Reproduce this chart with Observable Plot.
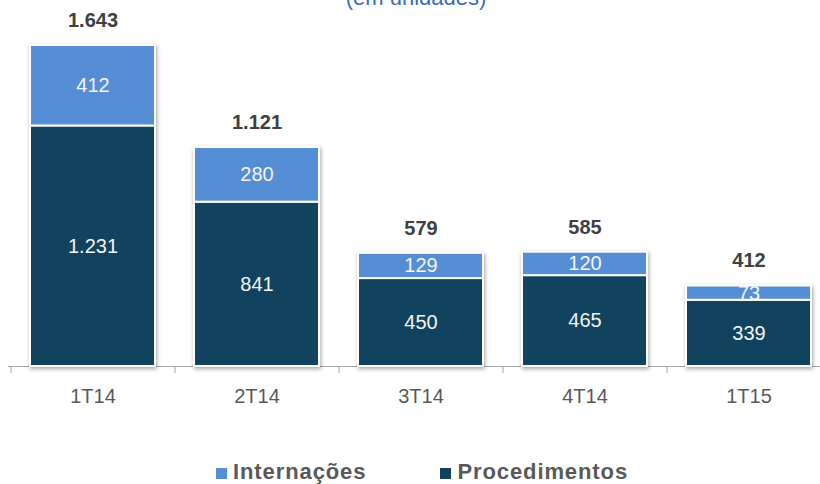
<!DOCTYPE html>
<html><head><meta charset="utf-8">
<script src="https://cdn.jsdelivr.net/npm/d3@7"></script>
<script src="https://cdn.jsdelivr.net/npm/@observablehq/plot@0.6"></script>
<style>
html,body{margin:0;padding:0;background:#fff;overflow:hidden;}
#wrap{position:relative;width:820px;height:484px;font-family:Arial,"Liberation Sans",sans-serif;overflow:hidden;}
#title{position:absolute;left:0;width:832px;top:-13px;text-align:center;font-size:22px;line-height:22px;color:#3A6DB3;}
#chart{position:absolute;left:0;top:0;}
#legend{position:absolute;top:460px;left:216px;display:flex;align-items:center;font-size:22px;font-weight:bold;color:#595959;letter-spacing:0.9px;line-height:24px;}
.item{display:flex;align-items:center;margin-right:74px;}
.sw{width:11px;height:11px;margin-right:6px;margin-top:3px;}
g[aria-label="bar"]{filter:drop-shadow(1px 2px 2px rgba(0,0,0,0.35));}
</style></head>
<body>
<div id="wrap">
  <div id="chart"></div>
  <div id="title">(em unidades)</div>
  <div id="legend"></div>
</div>
<script>
const categories = ["1T14", "2T14", "3T14", "4T14", "1T15"];
const series = ["Internações", "Procedimentos"];
const colors = ["#558ED5", "#11435E"];
const internacoes = [412, 280, 129, 120, 73];
const procedimentos = [1231, 841, 450, 465, 339];

const fmt = d3.formatLocale({decimal: ",", thousands: ".", grouping: [3], currency: ["R$", ""]}).format(",d");

const rows = categories.flatMap((c, i) => [
  {q: c, serie: series[1], v: procedimentos[i]},
  {q: c, serie: series[0], v: internacoes[i]}
]);
const totals = categories.map((c, i) => ({q: c, t: internacoes[i] + procedimentos[i]}));
const order = [series[1], series[0]];

const chart = Plot.plot({
  width: 820, height: 450,
  marginLeft: 8, marginRight: 0, marginTop: 45, marginBottom: 84,
  x: {domain: categories, range: [9.5, 830.7], paddingInner: 0.24, paddingOuter: 0.12, label: null},
  y: {domain: [0, d3.max(totals, d => d.t)], axis: null},
  color: {domain: series, range: colors},
  style: {fontFamily: "Arial, 'Liberation Sans', sans-serif", overflow: "visible", background: "transparent"},
  marks: [
    Plot.ruleY([0], {stroke: "#a6a6a6", strokeWidth: 1}),
    Plot.barY(rows, Plot.stackY({x: "q", y: "v", fill: "serie", z: "serie", order, stroke: "white", strokeWidth: 2})),
    Plot.text(rows, Plot.stackY({x: "q", y: "v", z: "serie", order, text: d => fmt(d.v), fill: "#f4f4f4", fontSize: 20})),
    Plot.text(totals, {x: "q", y: "t", text: d => fmt(d.t), dy: -25, fontSize: 20, fontWeight: "bold", fill: "#404040"}),
    Plot.axisX({tickSize: 7, tickFormat: () => "", dx: -82, stroke: "#a6a6a6"}),
    Plot.axisX({tickSize: 0, tickPadding: 22, fontSize: 20, fill: "#595959"})
  ]
});
document.getElementById("chart").appendChild(chart);

const legend = document.getElementById("legend");
series.forEach((s, i) => {
  const it = document.createElement("div");
  it.className = "item";
  const sw = document.createElement("span");
  sw.className = "sw";
  sw.style.background = colors[i];
  const tx = document.createElement("span");
  tx.textContent = s;
  it.appendChild(sw); it.appendChild(tx);
  legend.appendChild(it);
});
</script>
</body></html>
